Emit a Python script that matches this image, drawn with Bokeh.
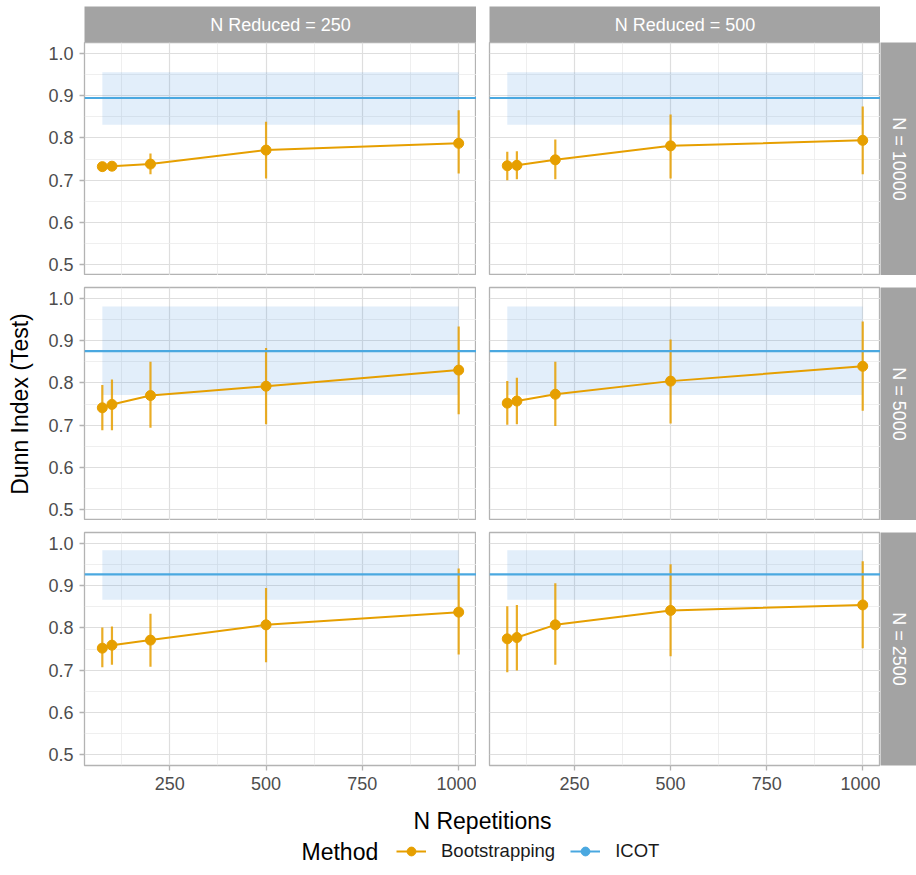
import math

from bokeh.embed import file_html
from bokeh.layouts import column, row
from bokeh.models import (
    ColumnDataSource, FixedTicker, Grid, Label, Legend, LegendItem,
    LinearAxis, PrintfTickFormatter, Range1d, Span,
)
from bokeh.plotting import figure
from bokeh.resources import INLINE

# ---------------------------------------------------------------- data
N_REPS = [75, 100, 200, 500, 1000]          # x: number of repetitions
N_SIZES = [10000, 5000, 2500]               # facet rows
N_REDUCED = [250, 500]                      # facet columns

# Bootstrapping: mean Dunn index and interval, one list per facet
boot_mean_10000_250 = [0.732, 0.733, 0.738, 0.771, 0.787]
boot_low_10000_250 = [0.725, 0.726, 0.714, 0.704, 0.716]
boot_high_10000_250 = [0.738, 0.739, 0.763, 0.838, 0.865]

boot_mean_10000_500 = [0.734, 0.735, 0.748, 0.781, 0.794]
boot_low_10000_500 = [0.700, 0.702, 0.702, 0.704, 0.714]
boot_high_10000_500 = [0.767, 0.768, 0.796, 0.855, 0.874]

boot_mean_5000_250 = [0.741, 0.749, 0.770, 0.792, 0.830]
boot_low_5000_250 = [0.688, 0.688, 0.694, 0.702, 0.726]
boot_high_5000_250 = [0.795, 0.808, 0.850, 0.882, 0.933]

boot_mean_5000_500 = [0.752, 0.757, 0.773, 0.804, 0.839]
boot_low_5000_500 = [0.701, 0.702, 0.698, 0.704, 0.734]
boot_high_5000_500 = [0.804, 0.812, 0.850, 0.902, 0.945]

boot_mean_2500_250 = [0.752, 0.759, 0.771, 0.807, 0.837]
boot_low_2500_250 = [0.707, 0.713, 0.708, 0.719, 0.737]
boot_high_2500_250 = [0.801, 0.803, 0.833, 0.894, 0.940]

boot_mean_2500_500 = [0.774, 0.777, 0.807, 0.841, 0.854]
boot_low_2500_500 = [0.695, 0.699, 0.713, 0.733, 0.752]
boot_high_2500_500 = [0.851, 0.854, 0.905, 0.950, 0.957]

# ICOT: one value (and band) per N, same for both reduced sizes
icot_mean = [0.894, 0.875, 0.926]
icot_low = [0.831, 0.771, 0.866]
icot_high = [0.955, 0.980, 0.983]

X_TICKS = [250, 500, 750, 1000]
X_MINOR = [125, 375, 625, 875]
Y_TICKS = [0.5, 0.6, 0.7, 0.8, 0.9, 1.0]
Y_MINOR = [0.55, 0.65, 0.75, 0.85, 0.95]

BOOT = {
    (10000, 250): (boot_mean_10000_250, boot_low_10000_250, boot_high_10000_250),
    (10000, 500): (boot_mean_10000_500, boot_low_10000_500, boot_high_10000_500),
    (5000, 250): (boot_mean_5000_250, boot_low_5000_250, boot_high_5000_250),
    (5000, 500): (boot_mean_5000_500, boot_low_5000_500, boot_high_5000_500),
    (2500, 250): (boot_mean_2500_250, boot_low_2500_250, boot_high_2500_250),
    (2500, 500): (boot_mean_2500_500, boot_low_2500_500, boot_high_2500_500),
}

# ---------------------------------------------------------------- style
FONT = "Liberation Sans"
ORANGE = "#E69F00"
BLUE = "#4AA8E0"
BAND = "#3C8DDC"
STRIP = "#A3A3A3"
BORDER = "#B3B3B3"
TICK_TXT = "#4D4D4D"

LEFT_PAD = 84       # room for y tick labels and title
COL_GAP = 13        # space between facet columns
ROW_GAP = 12        # space between facet rows
FRAME_W = [392, 391]
PANEL_H = 233
STRIP_W = 36
TOP_H = 42          # 6 px margin + 36 px strip
XAXIS_H = 35

x_range = Range1d(28.75, 1046.25)
y_range = Range1d(0.475, 1.025)


def base_fig(width, height, left, right, top, bottom, xr, yr, bg="white"):
    return figure(
        width=width, height=height, x_range=xr, y_range=yr,
        x_axis_type=None, y_axis_type=None, tools="", toolbar_location=None,
        output_backend="svg", min_border_left=left, min_border_right=right,
        min_border_top=top, min_border_bottom=bottom,
        background_fill_color=bg, border_fill_color="white",
        outline_line_color=None,
    )


def style_axis(ax):
    ax.axis_line_color = None
    ax.major_tick_line_color = BORDER
    ax.major_tick_line_width = 1.3
    ax.major_tick_in = 0
    ax.major_tick_out = 5
    ax.minor_tick_line_color = None
    ax.major_label_standoff = 6
    ax.major_label_text_font = FONT
    ax.major_label_text_font_size = "18px"
    ax.major_label_text_color = TICK_TXT


def panel(ri, ci):
    n, nr = N_SIZES[ri], N_REDUCED[ci]
    top = 0 if ri == 0 else ROW_GAP
    bottom = XAXIS_H if ri == 2 else 0
    left = LEFT_PAD if ci == 0 else COL_GAP
    p = base_fig(left + FRAME_W[ci], top + PANEL_H + bottom, left, 0, top, bottom,
                 x_range, y_range)
    p.outline_line_color = BORDER
    p.outline_line_width = 1.3

    p.add_layout(Grid(dimension=0, ticker=FixedTicker(ticks=X_TICKS, minor_ticks=X_MINOR),
                      grid_line_color="#DEDEDE", grid_line_width=1.2,
                      minor_grid_line_color="#EBEBEB", minor_grid_line_width=0.8))
    p.add_layout(Grid(dimension=1, ticker=FixedTicker(ticks=Y_TICKS, minor_ticks=Y_MINOR),
                      grid_line_color="#DEDEDE", grid_line_width=1.2,
                      minor_grid_line_color="#EBEBEB", minor_grid_line_width=0.8))

    if ci == 0:
        ya = LinearAxis(ticker=FixedTicker(ticks=Y_TICKS),
                        formatter=PrintfTickFormatter(format="%.1f"))
        style_axis(ya)
        if ri == 1:
            ya.axis_label = "Dunn Index (Test)"
            ya.axis_label_text_font = FONT
            ya.axis_label_text_font_size = "23px"
            ya.axis_label_text_font_style = "normal"
            ya.axis_label_text_color = "black"
            ya.axis_label_standoff = 12
        p.add_layout(ya, "left")
    if ri == 2:
        xa = LinearAxis(ticker=FixedTicker(ticks=X_TICKS))
        style_axis(xa)
        p.add_layout(xa, "below")

    # ICOT band over the repetition range and its mean line
    p.varea(x=N_REPS, y1=[icot_low[ri]] * len(N_REPS), y2=[icot_high[ri]] * len(N_REPS),
            fill_color=BAND, fill_alpha=0.15)
    p.add_layout(Span(location=icot_mean[ri], dimension="width",
                      line_color=BLUE, line_width=2.2))

    mean, low, high = BOOT[(n, nr)]
    src = ColumnDataSource(dict(x=N_REPS, mean=mean, low=low, high=high))
    p.segment(x0="x", y0="low", x1="x", y1="high", source=src,
              line_color=ORANGE, line_width=2.2, line_alpha=0.85)
    p.line("x", "mean", source=src, line_color=ORANGE, line_width=2)
    p.scatter("x", "mean", source=src, size=10, fill_color=ORANGE, line_color=ORANGE)
    return p


def top_strip(ci):
    left = LEFT_PAD if ci == 0 else COL_GAP
    p = base_fig(left + FRAME_W[ci], TOP_H, left, 0, TOP_H - 36, 0,
                 Range1d(0, 1), Range1d(0, 1), bg=STRIP)
    p.add_layout(Label(x=0.5, y=0.5, text=f"N Reduced = {N_REDUCED[ci]}",
                       text_align="center", text_baseline="middle",
                       text_color="white", text_font=FONT, text_font_size="18px"))
    return p


def side_strip(ri):
    top = 0 if ri == 0 else ROW_GAP
    bottom = XAXIS_H if ri == 2 else 0
    p = base_fig(STRIP_W, top + PANEL_H + bottom, 0, 0, top, bottom,
                 Range1d(0, 1), Range1d(0, 1), bg=STRIP)
    p.add_layout(Label(x=0.5, y=0.5, text=f"N = {N_SIZES[ri]}", angle=-math.pi / 2,
                       text_align="center", text_baseline="middle",
                       text_color="white", text_font=FONT, text_font_size="18px"))
    return p


rows = [row(top_strip(0), top_strip(1))]
for ri in range(3):
    rows.append(row(panel(ri, 0), panel(ri, 1), side_strip(ri)))

# ---------------------------------------------------------------- x title and legend
FOOT_H = 75
foot = base_fig(916, FOOT_H, 0, 0, 0, 0, Range1d(0, 916), Range1d(0, FOOT_H))
foot.add_layout(Label(x=482, y=FOOT_H - 20, text="N Repetitions", text_align="center",
                      text_baseline="middle", text_color="black", text_font=FONT,
                      text_font_size="23px"))
foot.add_layout(Label(x=301, y=FOOT_H - 51, text="Method", text_align="left",
                      text_baseline="middle", text_color="black", text_font=FONT,
                      text_font_size="23px"))

key_src = ColumnDataSource(dict(x=N_REPS, boot=boot_mean_10000_250,
                                icot=[icot_mean[0]] * len(N_REPS)))
kb_line = foot.line("x", "boot", source=key_src, line_color=ORANGE, line_width=2, visible=False)
kb_pt = foot.scatter("x", "boot", source=key_src, fill_color=ORANGE, line_color=ORANGE, visible=False)
ki_line = foot.line("x", "icot", source=key_src, line_color=BLUE, line_width=2, visible=False)
ki_pt = foot.scatter("x", "icot", source=key_src, fill_color=BLUE, line_color=BLUE, visible=False)

legend = Legend(
    items=[LegendItem(label="Bootstrapping", renderers=[kb_line, kb_pt]),
           LegendItem(label="ICOT", renderers=[ki_line, ki_pt])],
    orientation="horizontal", location=(396, 13),
    glyph_width=30, glyph_height=22, label_standoff=15, spacing=15,
    padding=0, margin=0, border_line_color=None, background_fill_alpha=0,
    inactive_fill_alpha=0, label_text_font=FONT, label_text_font_size="18.5px",
    label_text_color="#1A1A1A", label_text_baseline="middle",
)
foot.add_layout(legend)

layout = column(*rows, foot)

with open("out.html", "w") as f:
    f.write(file_html(layout, INLINE))
